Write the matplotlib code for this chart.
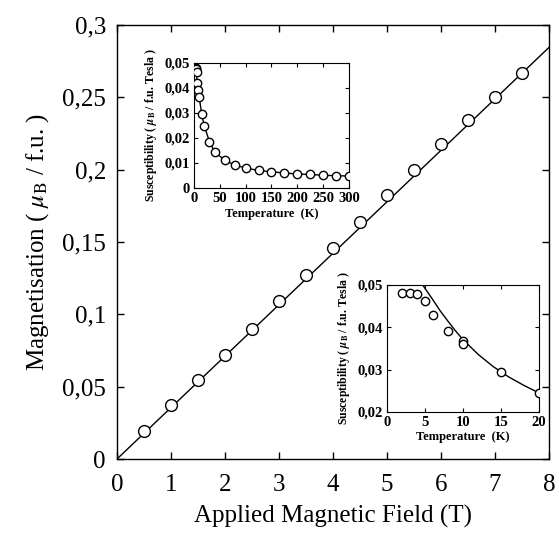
import matplotlib
matplotlib.use("Agg")
import matplotlib.pyplot as plt

plt.rcParams['font.family'] = ['Liberation Serif', 'DejaVu Serif']
plt.rcParams['mathtext.fontset'] = 'stix'

# Main: magnetisation vs field
field = [0.5, 1, 1.5, 2, 2.5, 3, 3.5, 4, 4.5, 5, 5.5, 6, 6.5, 7, 7.5]
magn = [0.0195, 0.0370, 0.0545, 0.0722, 0.0900, 0.1090, 0.1275, 0.1460,
        0.1640, 0.1825, 0.2000, 0.2175, 0.2340, 0.2505, 0.2665]
fit_field = [0, 8]
fit_magn = [0, 0.2845]
main_xticks = [0, 1, 2, 3, 4, 5, 6, 7, 8]
main_yticks = [0, 0.05, 0.1, 0.15, 0.2, 0.25, 0.3]
main_ylabels = ['0', '0,05', '0,1', '0,15', '0,2', '0,25', '0,3']

# Inset 1: susceptibility vs temperature (0-300 K)
temp1 = [2, 3, 4, 5, 6, 8, 10, 15, 20, 30, 40, 60, 80, 100, 125, 150,
         175, 200, 225, 250, 275, 300]
chi1 = [0.0481, 0.0480, 0.0478, 0.0462, 0.0420, 0.0390, 0.0365, 0.0295,
        0.0248, 0.0185, 0.0145, 0.0110, 0.0091, 0.0080, 0.0070, 0.0065,
        0.0060, 0.0056, 0.0054, 0.0051, 0.0049, 0.0048]
in1_xticks = [0, 50, 100, 150, 200, 250, 300]
in1_yticks = [0, 0.01, 0.02, 0.03, 0.04, 0.05]
in1_ylabels = ['0', '0,01', '0,02', '0,03', '0,04', '0,05']

# Inset 2: low temperature zoom (0-20 K)
temp2 = [2, 3, 4, 5, 6, 8, 10, 10, 15, 20]
chi2 = [0.0481, 0.0480, 0.0478, 0.0462, 0.0429, 0.0392, 0.0367, 0.0360,
        0.0295, 0.0246]
fit_temp2 = [4.7, 5, 6, 7, 8, 9, 10, 12, 14, 16, 18, 20]
fit_chi2 = [0.0500, 0.0492, 0.0466, 0.0439, 0.0415, 0.0392, 0.0371,
            0.0336, 0.0307, 0.0283, 0.0263, 0.0245]
in2_xticks = [0, 5, 10, 15, 20]
in2_yticks = [0.02, 0.03, 0.04, 0.05]
in2_ylabels = ['0,02', '0,03', '0,04', '0,05']

fig = plt.figure(figsize=(5.59, 5.33), dpi=100)

ax = fig.add_axes([0.2093, 0.1388, 0.7728, 0.8143])
ax.plot(fit_field, fit_magn, color='black', lw=1.0, zorder=2)
ax.plot(field, magn, 'o', mfc='white', mec='black', mew=1.0, ms=8.5, zorder=3)
ax.set_xlim(0, 8)
ax.set_ylim(0, 0.3)
ax.set_xticks(main_xticks)
ax.set_xticklabels([str(v) for v in main_xticks])
ax.set_yticks(main_yticks)
ax.set_yticklabels(main_ylabels)
ax.tick_params(direction='in', length=5, width=1, top=True, right=True,
               labelsize=18, pad=8)
ax.tick_params(axis='x', pad=11)
ax.set_xlabel('Applied Magnetic Field (T)', fontsize=18, labelpad=6)
ax.set_ylabel(r'Magnetisation ( $\mu_{\rm B}$ / f.u. )', fontsize=18, labelpad=8)
for s in ax.spines.values():
    s.set_linewidth(1.0)

# inset 1
a1 = fig.add_axes([0.347, 0.6473, 0.2773, 0.2345])
a1.plot(temp1, chi1, color='black', lw=1.0, zorder=2)
a1.plot(temp1, chi1, 'o', mfc='white', mec='black', mew=1.0, ms=6, zorder=3)
a1.set_xlim(0, 300)
a1.set_ylim(0, 0.05)
a1.set_xticks(in1_xticks)
a1.set_xticklabels([str(v) for v in in1_xticks])
a1.set_yticks(in1_yticks)
a1.set_yticklabels(in1_ylabels)
a1.tick_params(direction='in', length=3, width=0.8, top=True, right=True,
               labelsize=10.5, pad=3)
for lab in a1.get_xticklabels() + a1.get_yticklabels():
    lab.set_fontweight('bold')
a1.set_xlabel('Temperature  (K)', fontsize=9, fontweight='bold', labelpad=2)
a1.set_ylabel(r'Susceptibility ( $\boldsymbol{\mu}_{\mathbf{B}}$ / f.u. Tesla )',
              fontsize=8.5, fontweight='bold', labelpad=4)

# inset 2
a2 = fig.add_axes([0.6923, 0.227, 0.2719, 0.2383])
a2.plot(fit_temp2, fit_chi2, color='black', lw=1.0, zorder=2)
a2.plot(temp2, chi2, 'o', mfc='white', mec='black', mew=1.0, ms=6, zorder=3)
a2.set_xlim(0, 20)
a2.set_ylim(0.02, 0.05)
a2.set_xticks(in2_xticks)
a2.set_xticklabels([str(v) for v in in2_xticks])
a2.set_yticks(in2_yticks)
a2.set_yticklabels(in2_ylabels)
a2.tick_params(direction='in', length=3, width=0.8, top=True, right=True,
               labelsize=10.5, pad=3)
for lab in a2.get_xticklabels() + a2.get_yticklabels():
    lab.set_fontweight('bold')
a2.set_xlabel('Temperature  (K)', fontsize=9, fontweight='bold', labelpad=1)
a2.set_ylabel(r'Susceptibility ( $\boldsymbol{\mu}_{\mathbf{B}}$ / f.u. Tesla )',
              fontsize=8.5, fontweight='bold', labelpad=4)

fig.savefig('out.png', dpi=100)
